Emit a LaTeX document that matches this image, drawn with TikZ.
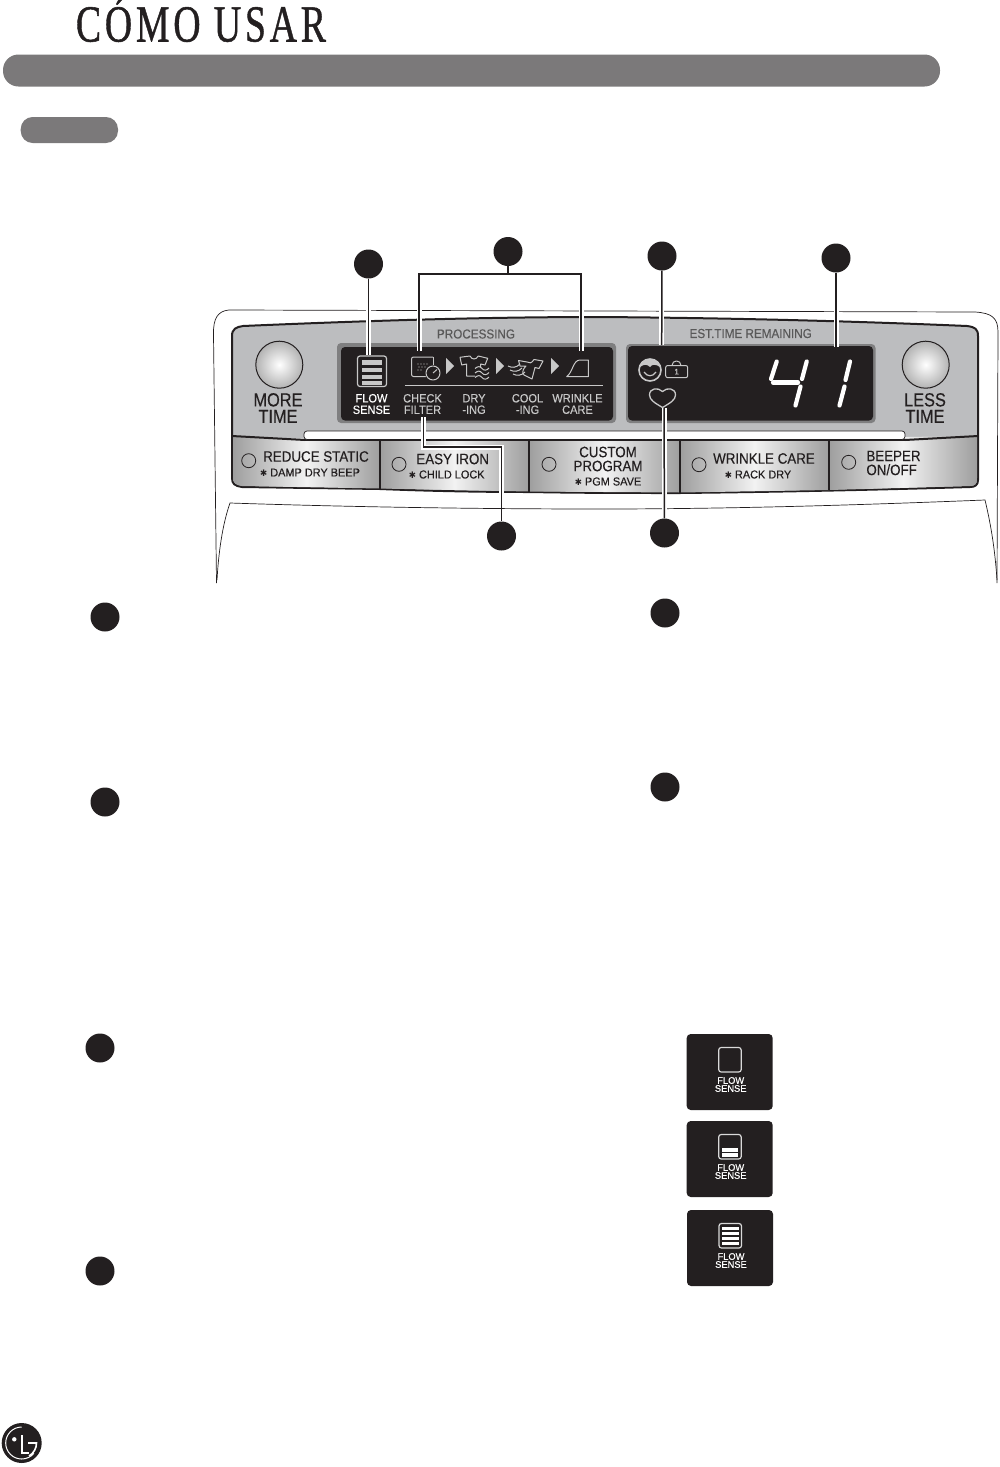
\documentclass[tikz,border=0pt]{standalone}
\usepackage{fontspec}
\setmainfont[FakeBold=.3]{Liberation Sans}
\newfontfamily\titlefont[LetterSpace=10,FakeBold=1]{Liberation Serif}
\newfontfamily\symfont{DejaVu Sans}
\newcommand{\estrella}{{\symfont\fontsize{9}{9}\selectfont ✱}}
\definecolor{barra}{HTML}{7B797A}
\definecolor{panel}{HTML}{BCBDBF}
\definecolor{negro}{HTML}{231F20}
\definecolor{marco}{HTML}{7F7F80}
\definecolor{icono}{HTML}{C8C8C8}
\tikzset{
  marca/.style={circle,fill=negro,minimum size=29pt,inner sep=0pt},
  halo/.style={white,line width=5pt},
  guia/.style={negro,line width=1.5pt},
  trazo/.style={icono,line width=1pt,line join=round},
  boton/.style={left color=black!38,right color=black!38,middle color=black!5},
  led/.style={circle,draw=negro,line width=.8pt,minimum size=14pt,inner sep=0pt},
  grande/.style={font=\fontsize{19}{16.5}\selectfont,xscale=.86,align=center,inner sep=0pt,negro},
  btn/.style={font=\fontsize{15}{14}\selectfont,xscale=.89,align=center,inner sep=0pt,negro},
  sub/.style={font=\fontsize{11.5}{12}\selectfont,xscale=.95,inner sep=0pt,negro},
  pant/.style={font=\fontsize{12}{11.5}\selectfont,xscale=.92,align=center,inner sep=0pt,icono},
  peque/.style={font=\fontsize{9.5}{8}\selectfont,xscale=.98,align=center,inner sep=0pt,white},
  seg/.style={white,line width=4.2pt,line cap=round},
  cuadro/.style={fill=negro,rounded corners=4pt},
  caja/.style={draw=white!85!black,line width=1.2pt,rounded corners=2.5pt},
}
\begin{document}
\begin{tikzpicture}[x=1pt,y=-1pt]
  \useasboundingbox (0,0) rectangle (999,1467);
  % cabecera
  \node[font=\titlefont\fontsize{52}{52}\selectfont,xscale=.727,negro,inner sep=0pt,anchor=base] (titulo) at (201,41.5) {CÓMO USAR};
  \fill[barra,rounded corners=15.5pt] (3,54.5) rectangle (940,86.5);
  \fill[barra,rounded corners=12pt] (20.7,117) rectangle (118,143);
  % contorno exterior
  \draw[negro,line width=.7pt] (216.5,583) -- (213.5,335) .. controls (213,318) and (218,311) .. (229,310)
    -- (975,312) .. controls (992,313) and (998,318) .. (998,332) -- (997,583);
  \draw[negro,line width=.7pt] (217,580) .. controls (219,545) and (224,520) .. (230,503)
    .. controls (350,507) and (480,509) .. (600,509) .. controls (730,509) and (860,505) .. (985,500)
    .. controls (991,525) and (995,550) .. (997,580);
  % panel
  \filldraw[fill=panel,draw=negro,line width=2pt] (232,336) .. controls (232,329) and (236,327) .. (243,326)
    .. controls (360,321) and (480,317) .. (600,317) .. controls (730,318) and (850,321) .. (967,326)
    .. controls (975,327) and (978,329) .. (978,336) -- (978,480) .. controls (978,485) and (975,487) .. (970,487)
    .. controls (870,490) and (770,492) .. (680,493) .. controls (630,493) and (580,493) .. (530,492)
    .. controls (480,492) and (430,491) .. (380,489) -- (242,487) .. controls (235,486) and (232,484) .. (232,478) -- cycle;
  % botones
  \shade[boton] (233,437) -- (380,440) -- (380,488.5) -- (242,486) .. controls (236,485) and (233,483) .. (233,478) -- cycle;
  \shade[boton] (380,440) -- (529,441) -- (529,491.5) -- (380,488.5) -- cycle;
  \shade[boton] (529,441) -- (680,441) -- (680,492.5) -- (529,491.5) -- cycle;
  \shade[boton] (680,441) -- (829,438) -- (829,490) -- (680,492.5) -- cycle;
  \shade[boton] (829,438) -- (977,436) -- (977,478) .. controls (977,484) and (975,486) .. (970,486) -- (829,490) -- cycle;
  \draw[negro,line width=2pt] (232,436) -- (305,440) (905,440) -- (978,436);
  \draw[negro,line width=2pt] (305,440) -- (905,440);
  \foreach \xdiv/\ydiv/\yfin in {380/439/489,529/440/492,680/440/493,829/437/490}
    \draw[negro,line width=2.4pt] (\xdiv,\ydiv) -- (\xdiv,\yfin);
  \filldraw[fill=white,draw=negro,line width=.7pt,rounded corners=3pt] (304,431) rectangle (905,439.5);
  % pantallas
  \fill[marco,rounded corners=4pt] (337,343) rectangle (616,423);
  \fill[marco,rounded corners=4pt] (626,344) rectangle (875.5,423);
  \fill[cuadro] (341,347) rectangle (613,420.5);
  \fill[cuadro] (628,346) rectangle (873,420.5);
  % mandos
  \shade[draw=negro,line width=1pt,inner color=white,outer color=black!30] (279.3,364.7) circle (23.5);
  \shade[draw=negro,line width=1pt,inner color=white,outer color=black!30] (925.7,364.7) circle (23.5);
  \node[grande] (more) at (278,408) {MORE\\TIME};
  \node[grande] (less) at (925,408) {LESS\\TIME};
  \node[font=\fontsize{13}{13}\selectfont,xscale=.9,text=black!65,inner sep=0pt] (proc) at (476,334) {PROCESSING};
  \node[font=\fontsize{13}{13}\selectfont,xscale=.9,text=black!65,inner sep=0pt] (est) at (750.7,333.5) {EST.TIME REMAINING};
  % textos de botones
  \node[led] (led1) at (248.7,460.7) {};
  \node[led] (led2) at (399,464.3) {};
  \node[led] (led3) at (549,464.3) {};
  \node[led] (led4) at (699,464.7) {};
  \node[led] (led5) at (848.7,462.3) {};
  \node[btn] (reduce) at (316,456.5) {REDUCE STATIC};
  \node[sub] (damp) at (310,472.5) {\estrella\ DAMP DRY BEEP};
  \node[btn] (easy) at (452.7,459) {EASY IRON};
  \node[sub] (child) at (446.7,474.5) {\estrella\ CHILD LOCK};
  \node[btn] (custom) at (608,459) {CUSTOM\\PROGRAM};
  \node[sub] (pgm) at (608,481.5) {\estrella\ PGM SAVE};
  \node[btn] (wrinkle) at (764,458.5) {WRINKLE CARE};
  \node[sub] (rack) at (758,474.5) {\estrella\ RACK DRY};
  \node[btn,align=left] (beeper) at (893.5,463) {BEEPER\\ON/OFF};
  % textos de pantalla
  \node[pant,text=white] (flow) at (371.5,404) {FLOW\\SENSE};
  \node[pant] (check) at (422.5,404) {CHECK\\FILTER};
  \node[pant] (dry) at (474,404) {DRY\\-ING};
  \node[pant] (cool) at (527.5,404) {COOL\\-ING};
  \node[pant] (wcare) at (577.5,404) {WRINKLE\\CARE};
  \draw[icono,line width=.7pt] (405,385) -- (603,385);
  % icono flow sense
  \draw[trazo,line width=1.2pt,rounded corners=2.5pt] (357.5,356) rectangle (386.5,386.5);
  \foreach \ybar in {360,367.5,374.5,380.5}
    \fill[icono] (362,\ybar) rectangle (382,\ybar+4.5);
  % icono filtro
  \draw[trazo,rounded corners=2pt] (433,357) -- (411.5,357) -- (411.5,376.5) -- (426,376.5);
  \draw[trazo] (433,357) -- (433,365);
  \fill[negro] (433,373) circle (8);
  \draw[trazo] (433,373) circle (7) (433,373) -- (437,369.5);
  \foreach \xpt/\ypt in {418/364,421/364,424/364,427/364,419/367,422/367,425/367,418/370,421/370}
    \fill[icono] (\xpt,\ypt) circle (.6);
  % triangulos
  \foreach \xtri in {446,496,551}
    \fill[icono] (\xtri,358) -- (\xtri+8,366) -- (\xtri,374) -- cycle;
  % icono secado
  \draw[trazo] (475,376) -- (466.7,376) -- (466.7,364) -- (461.7,365) -- (460,357.3) -- (470,356)
    .. controls (472,360) and (476,360) .. (478.3,356) -- (487.7,358.3) -- (485,365) -- (480.7,364) -- (480.7,367);
  \foreach \yola in {368.5,373,377.5}
    \draw[trazo] (475,\yola) .. controls (478,\yola-2.5) and (480,\yola-2.5) .. (482,\yola)
      .. controls (484,\yola+2.5) and (487,\yola+2) .. (489,\yola-.5);
  % icono enfriado
  \draw[trazo] (518.5,360.5) -- (527,362) .. controls (529,364) and (532,363) .. (534,359.5) -- (543,361)
    -- (539,368.5) -- (535,367.5) -- (532,379) -- (524,375) .. controls (521,372) and (524,368) .. (526,366) -- (520,366) -- cycle;
  \foreach \yair/\xair in {366/508,370/510,374/513}
    \draw[trazo] (\xair,\yair) .. controls (\xair+4,\yair+2) and (\xair+8,\yair+2) .. (\xair+12,\yair-2);
  % icono plancha
  \draw[trazo] (566.7,376.7) -- (588.3,376.7) -- (588.3,360) -- (580,360)
    .. controls (573,360) and (573,372) .. (566.7,376.7) -- cycle;
  % pantalla derecha
  \draw[icono,line width=1.6pt] (650,370) circle (11);
  \fill[icono] (640,367) .. controls (640,357) and (660,357) .. (660,367) .. controls (656,364) and (652,364) .. (650,367)
    .. controls (647,364) and (644,364) .. (640,367) -- cycle;
  \draw[icono,line width=1.2pt] (644,372) .. controls (647,377) and (653,377) .. (656,372);
  \draw[trazo,rounded corners=2pt] (665.7,365.5) rectangle (687.7,377.7);
  \draw[trazo] (672,365.5) .. controls (672,359.5) and (681,359.5) .. (681,365.5);
  \node[font=\fontsize{8}{8}\selectfont,text=icono,inner sep=0pt] (uno) at (676.7,371.7) {1};
  \draw[trazo,line width=1.3pt] (662.5,407.5) .. controls (655,403) and (649.5,400) .. (649.5,395)
    .. controls (649.5,388) and (658,387) .. (662.5,391.5) .. controls (667,387) and (675.5,388) .. (675.5,395)
    .. controls (675.5,400) and (670,403) .. (662.5,407.5) -- cycle;
  % digitos
  \draw[seg] (776.7,361.5) -- (771,379);
  \draw[seg] (773,382.5) -- (798,382.5);
  \draw[seg] (806.7,361.5) -- (802,379);
  \draw[seg] (800.5,386.5) -- (795.5,405.5);
  \draw[seg] (850,361.5) -- (845.5,380);
  \draw[seg] (844.5,386.5) -- (839.5,405.5);
  % marcas
  \node[marca] (m1) at (368.5,264) {};
  \node[marca] (m2) at (508,251.5) {};
  \node[marca] (m3) at (662,256) {};
  \node[marca] (m4) at (836,258) {};
  \node[marca] (m5) at (501.5,536) {};
  \node[marca] (m6) at (664.5,533) {};
  \node[marca] (t1) at (105,617) {};
  \node[marca] (t2) at (105,802) {};
  \node[marca] (t3) at (100,1048) {};
  \node[marca] (t4) at (100,1271) {};
  \node[marca] (t5) at (665,613) {};
  \node[marca] (t6) at (665,787) {};
  % lineas guia
  \coordinate (f1) at (368.5,355);
  \coordinate (f2a) at (419,351);
  \coordinate (f2b) at (581,351);
  \coordinate (c2) at (508,274);
  \coordinate (f3) at (661.7,345);
  \coordinate (f4) at (836,347);
  \coordinate (f5) at (423.7,417);
  \coordinate (f6) at (664,408);
  \coordinate (r5a) at (423.7,447);
  \coordinate (r5b) at (501.5,447);
  \draw[halo] (368.5,305) -- (f1) (419,305) -- (f2a) (581,305) -- (f2b) (661.7,305) -- (f3) (836,305) -- (f4);
  \draw[halo] (f5) -- (r5a) -- (r5b) -- (501.5,500) (f6) -- (664,512);
  \draw[guia] (m1) -- (f1);
  \draw[guia] (m2) -- (c2);
  \draw[guia] (f2a) |- (c2) -| (f2b);
  \draw[guia] (m3) -- (f3);
  \draw[guia] (m4) -- (f4);
  \draw[guia] (f5) -- (r5a) -- (r5b) -- (m5);
  \draw[guia] (f6) -- (m6);
  % tres indicadores
  \foreach \nom/\xc/\ysup/\nbar in {ia/686.7/1034/0,ib/686.7/1121/2,ic/687/1210/4}{
    \fill[cuadro] (\xc,\ysup) rectangle (\xc+86,\ysup+76);
    \draw[caja] (\xc+32,\ysup+13.5) rectangle (\xc+54.5,\ysup+38);
    \ifnum\nbar=2
      \fill[white] (\xc+35,\ysup+26.5) rectangle (\xc+51.5,\ysup+30.5);
      \fill[white] (\xc+35,\ysup+32) rectangle (\xc+51.5,\ysup+35.5);
    \fi
    \ifnum\nbar=4
      \foreach \ybar in {16.5,21.5,26.5,31.5}
        \fill[white] (\xc+35,\ysup+\ybar) rectangle (\xc+51.5,\ysup+\ybar+3.5);
    \fi
    \node[peque] (\nom) at (\xc+44,\ysup+50.5) {FLOW\\SENSE};
  }
  % logo
  \fill[negro] (21.7,1443) circle (20);
  \draw[white,line width=1pt] (21.7,1427) arc[start angle=-90,delta angle=-230,radius=16];
  \fill[white] (14.3,1439.3) circle (2.2);
  \draw[white,line width=1.6pt] (21.7,1435) -- (21.7,1453) -- (28.5,1453);
  \draw[white,line width=1.6pt] (28,1443) -- (36.5,1443) arc[start angle=0,delta angle=60,radius=15];
\end{tikzpicture}
\end{document}
